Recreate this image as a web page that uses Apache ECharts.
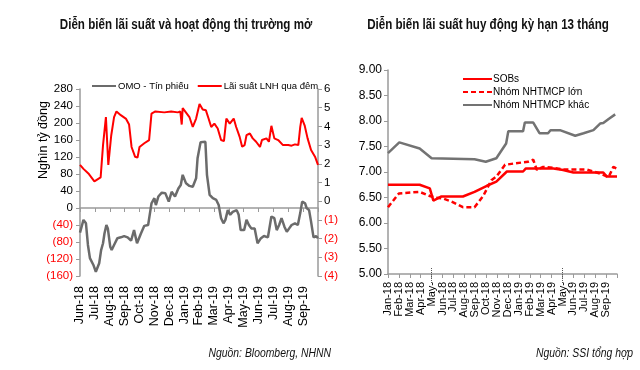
<!DOCTYPE html>
<html>
<head>
<meta charset="utf-8">
<script src="https://cdn.jsdelivr.net/npm/echarts@6/dist/echarts.min.js"></script>
<style>html,body{margin:0;padding:0;background:#fff}#c{width:640px;height:370px}</style>
</head>
<body>
<div id="c"></div>
<script>
// ---------- DATA ----------
const leftTitle = 'Diễn biến lãi suất và hoạt động thị trường mở';
const rightTitle = 'Diễn biến lãi suất huy động kỳ hạn 13 tháng';
const leftSource = 'Nguồn: Bloomberg, NHNN';
const rightSource = 'Nguồn: SSI tổng hợp';
const leftYName = 'Nghìn tỷ đồng';

const leftMonthLabels = ['Jun-18','Jul-18','Aug-18','Sep-18','Oct-18','Nov-18','Dec-18','Jan-19','Feb-19','Mar-19','Apr-19','May-19','Jun-19','Jul-19','Aug-19','Sep-19'];
const rightMonthLabels = ['Jan-18','Feb-18','Mar-18','Apr-18','May-','Jun-18','Jul-18','Aug-18','Sep-18','Oct-18','Nov-18','Dec-18','Jan-19','Feb-19','Mar-19','Apr-19','May-','Jun-19','Jul-19','Aug-19','Sep-19'];

// OMO - Tín phiếu (nghìn tỷ đồng)
const omoDates = ['2018-06-01','2018-06-08','2018-06-13','2018-06-17','2018-06-21','2018-06-28','2018-07-03','2018-07-10','2018-07-14','2018-07-18','2018-07-21','2018-07-25','2018-07-28','2018-08-02','2018-08-05','2018-08-10','2018-08-17','2018-08-24','2018-08-31','2018-09-07','2018-09-14','2018-09-20','2018-09-26','2018-10-04','2018-10-11','2018-10-19','2018-10-23','2018-10-26','2018-11-01','2018-11-04','2018-11-09','2018-11-16','2018-11-23','2018-11-30','2018-12-06','2018-12-13','2018-12-20','2018-12-25','2018-12-29','2019-01-05','2019-01-12','2019-01-19','2019-01-26','2019-01-29','2019-02-04','2019-02-13','2019-02-16','2019-02-21','2019-02-27','2019-03-06','2019-03-11','2019-03-16','2019-03-21','2019-03-25','2019-03-30','2019-04-04','2019-04-09','2019-04-13','2019-04-17','2019-04-21','2019-04-25','2019-05-02','2019-05-07','2019-05-12','2019-05-17','2019-05-24','2019-05-30','2019-06-06','2019-06-12','2019-06-20','2019-06-27','2019-07-03','2019-07-08','2019-07-13','2019-07-18','2019-07-24','2019-07-29','2019-08-03','2019-08-08','2019-08-15','2019-08-21','2019-08-26','2019-08-30','2019-09-05','2019-09-08','2019-09-13','2019-09-17','2019-09-22','2019-09-27','2019-10-01'];
const omoValues = [-58,-28,-36,-87,-118,-134,-150,-130,-99,-83,-60,-40,-48,-91,-99,-87,-71,-69,-66,-69,-77,-52,-83,-60,-42,-40,-42,11,23,7,27,36,35,15,38,27,46,54,78,58,52,50,70,117,155,156,78,31,23,19,7,-24,-36,-28,-5,-16,-9,-12,-5,-16,-52,-52,-28,-40,-48,-48,-83,-71,-66,-69,-20,-24,-52,-40,-24,-44,-56,-48,-40,-36,-40,-12,15,11,0,-5,-32,-69,-66,-71];

// Lãi suất LNH qua đêm (%)
const lnhDates = ['2018-06-01','2018-06-08','2018-06-19','2018-06-30','2018-07-13','2018-07-18','2018-07-24','2018-07-29','2018-08-04','2018-08-10','2018-08-15','2018-08-24','2018-09-04','2018-09-10','2018-09-15','2018-09-22','2018-09-27','2018-10-01','2018-10-11','2018-10-21','2018-10-26','2018-11-03','2018-11-21','2018-12-05','2018-12-19','2018-12-24','2018-12-27','2018-12-29','2019-01-12','2019-01-19','2019-01-26','2019-02-02','2019-02-08','2019-02-14','2019-02-19','2019-02-24','2019-03-02','2019-03-09','2019-03-16','2019-03-22','2019-03-27','2019-04-03','2019-04-11','2019-04-16','2019-04-23','2019-04-28','2019-05-03','2019-05-07','2019-05-14','2019-05-20','2019-05-27','2019-05-31','2019-06-04','2019-06-08','2019-06-17','2019-06-22','2019-06-27','2019-07-03','2019-07-11','2019-07-21','2019-08-01','2019-08-08','2019-08-15','2019-08-22','2019-08-26','2019-08-29','2019-09-04','2019-09-10','2019-09-17','2019-09-25','2019-10-01'];
const lnhValues = [1.94,1.73,1.45,1.06,1.27,3.0,4.5,1.94,3.5,4.5,4.8,4.6,4.4,4.1,2.9,2.38,2.33,2.9,3.1,3.27,4.68,4.8,4.75,4.8,4.75,4.8,4.1,4.98,4.5,3.97,4.42,5.2,4.9,4.86,4.42,3.97,4.15,3.89,3.27,3.21,4.42,4.15,4.42,3.97,3.44,2.91,3.0,3.53,3.62,3.36,3.18,3.1,2.9,3.27,3.36,3.18,4.03,3.36,3.27,3.0,3.0,2.97,3.04,3.0,3.97,4.45,4.06,3.36,2.74,2.38,1.94];

// Lãi suất huy động 13 tháng (%)
const sobDates = ['2018-01-01','2018-03-29','2018-04-26','2018-05-06','2018-05-29','2018-07-28','2018-08-30','2018-10-03','2018-10-30','2018-11-28','2019-01-13','2019-01-21','2019-04-06','2019-05-03','2019-06-01','2019-08-24','2019-09-03','2019-10-01'];
const sobValues = [6.75,6.75,6.68,6.44,6.52,6.52,6.61,6.73,6.81,7.01,7.01,7.07,7.07,7.04,6.99,6.99,6.91,6.91];
const bigDates = ['2018-01-01','2018-02-01','2018-02-04','2018-03-29','2018-04-26','2018-05-10','2018-06-03','2018-06-26','2018-07-28','2018-08-30','2018-09-23','2018-10-16','2018-10-30','2018-11-23','2018-12-21','2019-01-27','2019-02-10','2019-02-19','2019-03-08','2019-04-06','2019-05-03','2019-07-07','2019-08-15','2019-09-08','2019-09-21','2019-09-30'];
const bigValues = [6.31,6.58,6.61,6.61,6.53,6.50,6.48,6.42,6.31,6.31,6.53,6.84,6.91,7.14,7.17,7.20,7.24,7.04,7.10,7.08,7.05,7.05,6.97,6.90,7.10,7.07];
const otherDates = ['2018-01-01','2018-02-02','2018-03-29','2018-05-01','2018-08-30','2018-09-30','2018-10-30','2018-11-26','2018-12-02','2019-01-13','2019-01-18','2019-02-10','2019-02-26','2019-03-22','2019-03-29','2019-04-24','2019-06-06','2019-06-29','2019-07-27','2019-08-15','2019-08-24','2019-09-08','2019-09-26'];
const otherValues = [7.37,7.58,7.46,7.27,7.25,7.20,7.27,7.56,7.80,7.80,7.97,7.97,7.76,7.76,7.82,7.82,7.71,7.76,7.82,7.95,7.96,8.04,8.13];

// ---------- HELPERS ----------
function monthIndex(dateStr, y0, m0) {
  const [y, m, d] = dateStr.split('-').map(Number);
  const dim = new Date(y, m, 0).getDate();
  return (y - y0) * 12 + (m - m0) + (d - 1) / dim;
}
function pairs(dates, values, y0, m0) {
  return dates.map((d, i) => [monthIndex(d, y0, m0), values[i]]);
}

const REG = "'Liberation Sans', Arial, sans-serif";
const RED = '#ff0000';
const GRAY = '#6b6b6b';
const AXIS = '#9a9a9a';

function parenLabel(v) {
  return v < 0 ? '{neg|(' + (-v) + ')}' : String(v);
}
const leftTick = {fontFamily: REG, fontSize: 11.5, color: '#000'};

function squeezedText(text, x, y, font, align) {
  return {type: 'text', x: x, y: y, scaleX: 0.8, silent: true,
          style: {text: text, font: font, fill: '#111', textAlign: align, textVerticalAlign: 'middle'}};
}

const chart = echarts.init(document.getElementById('c'), null, {renderer: 'canvas'});
chart.setOption({
  animation: false,
  backgroundColor: '#fff',
  graphic: [
    squeezedText(leftTitle, 186, 25, 'bold 14.5px ' + REG, 'center'),
    squeezedText(rightTitle, 488, 25, 'bold 14.5px ' + REG, 'center'),
    squeezedText(leftSource, 331, 353, 'italic 13px ' + REG, 'right'),
    squeezedText(rightSource, 633, 353, 'italic 13px ' + REG, 'right'),
    {type: 'text', x: 44, y: 140, rotation: Math.PI / 2, silent: true,
     style: {text: leftYName, font: '12.5px ' + REG, fill: '#000', textAlign: 'center', textVerticalAlign: 'middle'}}
  ],
  legend: [
    {data: ['OMO - Tín phiếu', 'Lãi suất LNH qua đêm'], left: 86, top: 76, itemWidth: 24, itemHeight: 10, itemGap: 8,
     itemStyle: {opacity: 0},
     textStyle: {fontFamily: REG, fontSize: 9.5, color: '#000', padding: [0, 0, 0, -3]}},
    {data: ['SOBs', 'Nhóm NHTMCP lớn', 'Nhóm NHTMCP khác'], orient: 'vertical', left: 457, top: 69, itemWidth: 29, itemHeight: 12, itemGap: 3,
     itemStyle: {opacity: 0},
     textStyle: {fontFamily: REG, fontSize: 10, color: '#000', padding: [0, 0, 0, -4]}}
  ],
  grid: [
    {left: 80, top: 89, width: 238, height: 187},
    {left: 388, top: 70, width: 229, height: 204}
  ],
  xAxis: [
    {gridIndex: 0, type: 'value', min: 0, max: 16, interval: 1,
     axisLine: {onZero: true, lineStyle: {color: AXIS, width: 1.5}},
     axisTick: {show: true, inside: false, length: 4, lineStyle: {color: AXIS}},
     axisLabel: {show: false}, splitLine: {show: false}},
    {gridIndex: 0, type: 'value', min: 0, max: 16, interval: 1, position: 'bottom',
     axisLine: {show: false, onZero: false}, axisTick: {show: false}, splitLine: {show: false},
     axisLabel: {rotate: 90, margin: 10, fontFamily: REG, fontSize: 12.5, color: '#000',
                 formatter: v => leftMonthLabels[v] || ''}},
    {gridIndex: 1, type: 'value', min: 0, max: 21, interval: 1, position: 'bottom',
     axisLine: {onZero: false, lineStyle: {color: AXIS, width: 1.5}},
     axisTick: {show: true, length: 4, lineStyle: {color: AXIS}}, splitLine: {show: false},
     axisLabel: {rotate: 90, margin: 8, fontFamily: REG, fontSize: 11, color: '#000',
                 formatter: v => rightMonthLabels[v] || ''}},
    {gridIndex: 1, type: 'value', min: 0, max: 21, position: 'bottom', offset: 9,
     axisLine: {show: false, onZero: false}, axisLabel: {show: false}, splitLine: {show: false},
     axisTick: {show: true, inside: true, length: 16, customValues: [4, 16], lineStyle: {color: '#555', type: 'dotted', width: 1}}}
  ],
  yAxis: [
    {gridIndex: 0, type: 'value', min: -160, max: 280, interval: 40, position: 'left',
     axisLine: {show: true, lineStyle: {color: AXIS, width: 1.5}},
     axisTick: {show: true, length: 4, lineStyle: {color: AXIS}}, splitLine: {show: false},
     axisLabel: Object.assign({margin: 7, formatter: parenLabel, rich: {neg: Object.assign({}, leftTick, {color: RED})}}, leftTick)},
    {gridIndex: 0, type: 'value', min: -4, max: 6, interval: 1, position: 'right',
     axisLine: {show: true, onZero: false, lineStyle: {color: AXIS, width: 1.5}},
     axisTick: {show: true, length: 4, lineStyle: {color: AXIS}}, splitLine: {show: false},
     axisLabel: Object.assign({margin: 6, formatter: parenLabel, rich: {neg: Object.assign({}, leftTick, {color: RED})}}, leftTick)},
    {gridIndex: 1, type: 'value', min: 5, max: 9, interval: 0.5,
     axisLine: {show: true, lineStyle: {color: AXIS, width: 1.5}},
     axisTick: {show: true, length: 4, lineStyle: {color: AXIS}}, splitLine: {show: false},
     axisLabel: {margin: 6, fontFamily: REG, fontSize: 12, color: '#000', formatter: v => v.toFixed(2)}}
  ],
  series: [
    {name: 'OMO - Tín phiếu', type: 'line', xAxisIndex: 0, yAxisIndex: 0, symbol: 'none',
     data: pairs(omoDates, omoValues, 2018, 6), lineStyle: {color: GRAY, width: 2.5}, itemStyle: {color: GRAY}},
    {name: 'Lãi suất LNH qua đêm', type: 'line', xAxisIndex: 0, yAxisIndex: 1, symbol: 'none',
     data: pairs(lnhDates, lnhValues, 2018, 6), lineStyle: {color: RED, width: 2}, itemStyle: {color: RED}},
    {name: 'SOBs', type: 'line', xAxisIndex: 2, yAxisIndex: 2, symbol: 'none',
     data: pairs(sobDates, sobValues, 2018, 1), lineStyle: {color: RED, width: 2.5}, itemStyle: {color: RED}},
    {name: 'Nhóm NHTMCP lớn', type: 'line', xAxisIndex: 2, yAxisIndex: 2, symbol: 'none',
     data: pairs(bigDates, bigValues, 2018, 1), lineStyle: {color: RED, width: 2.5, type: [5, 3]}, itemStyle: {color: RED}},
    {name: 'Nhóm NHTMCP khác', type: 'line', xAxisIndex: 2, yAxisIndex: 2, symbol: 'none',
     data: pairs(otherDates, otherValues, 2018, 1), lineStyle: {color: '#737373', width: 2.5}, itemStyle: {color: '#737373'}}
  ]
});
</script>
</body>
</html>
